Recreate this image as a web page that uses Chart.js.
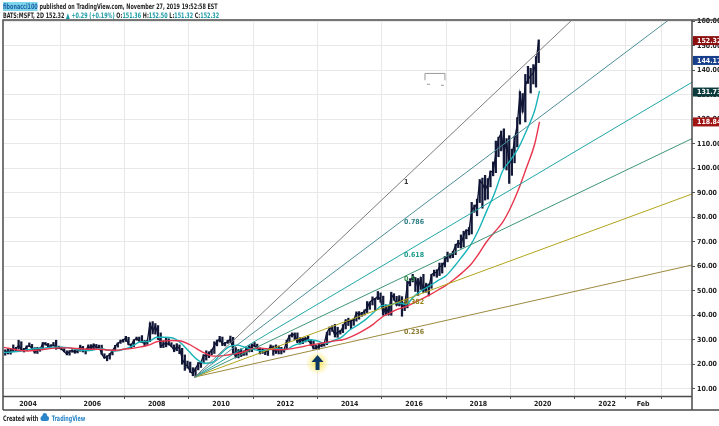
<!DOCTYPE html>
<html>
<head>
<meta charset="utf-8">
<script src="https://cdn.jsdelivr.net/npm/chart.js@4.4.1/dist/chart.umd.min.js"></script>
<style>
  html, body { margin: 0; padding: 0; background: #fff; }
  #wrap { position: relative; width: 719px; height: 426px; overflow: hidden; }
  #c { position: absolute; left: 0; top: 0; }
  .txt { position: absolute; left: 3px; white-space: nowrap; color: #1e1e1e; transform-origin: 0 0;
         font: bold 7.5px 'Liberation Sans Narrow', 'DejaVu Sans Condensed', 'Liberation Sans', Arial, sans-serif; }
  .hd { transform: scaleX(0.72); }
  .t { color: #1a9aa6; }
  .user { background: #7fd6ea; color: #1b5fa6; }
  .tv { color: #2a86c8; }
</style>
</head>
<body>
<div id="wrap">
  <canvas id="c" width="719" height="426"></canvas>
  <div class="txt hd" style="top:2px"><span class="user">fibonacci100</span> published on TradingView.com, November 27, 2019 19:52:58 EST</div>
  <div class="txt hd" style="top:11px">BATS:MSFT, 2D 152.32 <span class="t">▲ +0.29 (+0.19%)</span> O:<span class="t">151.36</span> H:<span class="t">152.50</span> L:<span class="t">151.32</span> C:<span class="t">152.32</span></div>
  <div class="txt hd" style="top:413px">Created with <svg width="14" height="9" viewBox="0 0 12 9" style="vertical-align:-1px"><path d="M3 8 Q0 8 0 5.5 Q0 3 2.5 3 Q3 0 6 0 Q9 0 9.5 3 Q12 3 12 5.5 Q12 8 9 8 Z" fill="#2a86c8"/></svg> <span class="tv">TradingView</span></div>
</div>
<script>
// MSFT 2D, monthly summary (Apr 2003 .. Nov 2019)
const startYear = 2003, startMonth = 4;

const closes = [
  25.6, 24.6, 25.6, 26.4, 26.5, 27.8, 26.1, 25.7, 27.4,
  27.6, 26.5, 24.9, 26.1, 26.2, 28.6, 28.5, 27.3, 27.7, 28.0, 26.8, 26.7,
  26.3, 25.2, 24.2, 25.3, 25.8, 24.8, 25.6, 27.4, 25.7, 25.7, 27.7, 26.2,
  28.2, 26.9, 27.2, 24.2, 22.6, 23.3, 24.1, 25.7, 27.4, 28.7, 29.4, 29.9,
  30.9, 28.2, 27.9, 29.9, 30.7, 29.5, 29.0, 28.7, 29.5, 36.8, 33.6, 35.6,
  32.6, 27.2, 28.4, 28.5, 28.3, 27.5, 25.7, 27.3, 26.7, 22.3, 20.2, 19.4,
  17.1, 16.2, 18.4, 20.3, 20.9, 23.8, 23.5, 24.7, 25.7, 27.7, 29.4, 30.5,
  28.2, 28.7, 29.3, 30.5, 25.8, 23.0, 25.8, 23.5, 24.5, 26.7, 25.3, 27.9,
  27.7, 26.6, 25.4, 26.0, 25.0, 26.0, 27.4, 26.6, 24.9, 26.6, 25.6, 26.0,
  29.5, 31.7, 32.3, 32.0, 29.2, 30.6, 29.5, 30.8, 29.8, 28.5, 26.6, 26.7,
  27.5, 27.8, 28.6, 33.1, 34.9, 34.5, 31.8, 33.4, 33.3, 35.4, 38.1, 37.4,
  37.8, 38.3, 41.0, 40.4, 40.9, 41.7, 43.2, 45.4, 46.4, 46.9, 47.8, 46.5,
  40.4, 43.9, 40.7, 48.6, 47.0, 44.2, 46.7, 43.5, 44.3, 52.6, 54.4, 55.5,
  55.1, 51.0, 55.2, 49.9, 53.0, 51.2, 56.7, 57.5, 57.6, 59.9, 60.3, 62.1,
  64.7, 64.0, 65.9, 68.5, 69.8, 68.9, 72.7, 74.8, 74.5, 83.2, 84.2, 85.5,
  95.0, 93.8, 91.3, 93.5, 98.8, 98.6, 106.1, 112.3, 114.4, 106.8, 110.9, 101.6,
  104.4, 112.0, 117.9, 130.6, 123.7, 134.0, 136.3, 137.9, 139.0, 143.4, 152.3
];

const lows = [
  23.8, 24.3, 24.2, 25.2, 25.6, 26.3, 25.6, 25.1, 25.6,
  27.3, 26.3, 24.6, 24.5, 25.4, 26.0, 27.9, 26.9, 27.1, 27.5, 26.2, 26.6,
  26.0, 25.2, 23.9, 23.8, 25.0, 24.6, 24.7, 25.4, 25.1, 24.3, 25.6, 26.1,
  26.1, 26.6, 26.5, 24.1, 22.6, 21.5, 22.2, 23.9, 25.5, 27.1, 28.6, 29.1,
  29.4, 28.0, 26.6, 27.3, 29.9, 29.5, 28.9, 27.5, 28.2, 29.3, 32.5, 32.4,
  30.2, 26.9, 26.9, 27.2, 27.9, 27.2, 25.2, 25.6, 24.4, 20.1, 17.6, 18.5,
  16.8, 15.4, 14.9, 17.8, 18.8, 20.6, 21.8, 22.8, 24.0, 24.5, 27.6, 29.2,
  27.7, 27.6, 28.6, 28.9, 24.0, 22.9, 22.7, 23.3, 23.7, 23.8, 25.2, 25.2,
  27.2, 26.3, 24.3, 24.5, 24.0, 23.7, 26.0, 23.8, 24.5, 24.3, 24.3, 25.0,
  26.4, 29.4, 31.2, 30.2, 28.9, 28.3, 28.5, 29.2, 29.6, 27.8, 26.3, 26.3,
  26.3, 27.2, 27.5, 28.1, 32.0, 33.5, 31.2, 31.1, 32.4, 33.0, 34.5, 35.9,
  34.6, 36.0, 37.7, 38.5, 39.7, 40.2, 41.2, 42.5, 44.3, 42.1, 46.5, 45.4,
  40.2, 40.2, 40.2, 40.1, 46.2, 44.1, 43.9, 39.7, 42.0, 43.1, 52.1, 53.7,
  49.8, 48.2, 50.6, 49.4, 49.5, 48.0, 51.1, 56.1, 55.6, 56.3, 57.3, 59.8,
  61.9, 63.4, 63.6, 64.8, 67.7, 67.5, 68.0, 71.3, 72.9, 73.3, 82.1, 80.7,
  86.1, 83.8, 87.1, 87.5, 92.5, 97.0, 98.3, 104.8, 107.2, 100.1, 99.4, 93.9,
  97.2, 102.3, 108.8, 118.1, 123.0, 119.0, 134.7, 130.8, 134.5, 133.2, 143.2
];

const highs = [
  26.0, 26.4, 26.3, 28.0, 27.0, 29.9, 29.3, 26.6, 27.6,
  28.8, 28.2, 26.9, 27.0, 26.8, 29.0, 29.0, 28.6, 28.1, 29.0, 29.9, 27.5,
  27.1, 26.5, 25.6, 25.7, 26.0, 26.0, 26.0, 27.9, 27.4, 25.9, 28.0, 28.1,
  28.4, 28.2, 27.9, 27.9, 24.4, 23.6, 24.5, 25.9, 27.8, 28.8, 30.0, 30.3,
  31.5, 31.1, 28.4, 30.1, 31.2, 31.2, 31.8, 29.8, 29.9, 37.0, 37.5, 36.7,
  35.9, 32.9, 29.7, 30.7, 30.5, 28.9, 28.0, 28.5, 28.0, 26.6, 23.9, 21.4,
  21.0, 18.7, 18.6, 20.8, 21.2, 24.0, 25.6, 25.2, 26.1, 29.3, 30.0, 31.5,
  31.2, 29.0, 29.9, 31.6, 31.1, 26.9, 26.1, 26.4, 25.6, 27.2, 27.7, 28.4,
  29.0, 28.3, 26.8, 26.4, 26.0, 26.0, 28.0, 27.6, 28.0, 27.5, 27.0, 26.2,
  29.9, 32.0, 32.9, 32.9, 32.9, 30.9, 30.9, 31.0, 31.6, 30.2, 29.5, 27.8,
  28.2, 28.2, 28.9, 33.1, 35.3, 35.8, 36.4, 35.2, 34.0, 36.3, 38.3, 38.9,
  38.0, 38.6, 41.5, 41.6, 41.3, 42.3, 45.7, 45.5, 47.6, 47.0, 49.8, 49.2,
  47.9, 44.3, 44.2, 49.5, 48.9, 47.8, 48.1, 47.7, 45.4, 54.0, 55.0, 56.8,
  55.5, 55.1, 55.6, 56.8, 53.0, 52.9, 56.8, 58.5, 58.7, 61.4, 61.4, 64.1,
  65.9, 65.2, 66.2, 69.1, 70.7, 72.9, 74.4, 75.0, 75.9, 86.2, 85.1, 87.5,
  95.5, 96.1, 97.2, 95.9, 99.0, 102.7, 111.2, 112.8, 115.3, 116.2, 112.2, 113.4,
  107.9, 113.2, 120.8, 131.4, 130.6, 138.4, 141.7, 140.9, 142.4, 145.7, 152.5
];

// moving averages, quarterly readings (2003.25 .. 2019.75, then last bar)
const maStart = 2003.25, maLastX = 2019.9;
const maCyan = [
  24.9, 25.1, 25.4,
  26.0, 26.5, 26.7, 27.1,  27.1, 26.9, 26.1, 25.7,  25.8, 26.5, 25.8, 25.6,
  26.3, 27.6, 29.3, 29.4,  31.1, 31.1, 30.8, 28.8,  25.4, 22.1, 20.5, 21.0,
  24.5, 27.2, 27.9, 27.0,  26.2, 25.6, 26.1, 26.4,  26.0, 27.7, 28.8, 30.1,
  29.6, 28.6, 29.8, 31.2,  34.1, 36.1, 38.4, 41.3,  44.0, 44.3, 45.2, 44.6,
  47.8, 50.3, 52.2, 54.3,  56.3, 60.0, 64.2, 68.6,  74.8, 82.4, 89.8, 98.9,
  103.4, 108.5, 115.6, 123.7, 131.7
];
const maRed = [
  27.0, 26.4, 25.7,
  25.5, 25.8, 26.2, 26.6,  26.8, 26.8, 26.5, 26.3,  26.2, 26.2, 25.9, 25.8,
  26.3, 26.6, 27.2, 27.9,  29.3, 29.6, 29.8, 29.6,  28.3, 26.4, 24.6, 23.4,
  23.5, 24.0, 24.5, 25.3,  26.6, 26.7, 26.3, 26.0,  26.1, 26.6, 27.2, 27.9,
  28.4, 29.0, 29.6, 30.0,  31.1, 32.6, 34.4, 36.6,  39.3, 41.0, 42.6, 43.6,
  45.2, 46.8, 48.5, 50.4,  52.4, 54.8, 57.5, 60.6,  65.0, 70.0, 74.0, 78.0,
  84.0, 91.5, 100.5, 110.0, 119.0
];

// fib speed fan: origin at the 2009 low, end prices at the right edge
const fanOrigin = { x: 2009.18, y: 14.87 };
const fanLevels = ['1', '0.786', '0.618', '0.5', '0.382', '0.236'];
const fanEnds = [207.0, 167.8, 135.2, 112.2, 89.6, 60.6];
const fanColors = ['#7d7d7d', '#4d8f98', '#22a8a6', '#3f9478', '#b3a41c', '#9c8a3e'];
const fanTextColors = ['#333333', '#2f7f86', '#1c9c8c', '#2f8a45', '#8f8418', '#8a7a30'];
const fanLabelX = 2015.66;

// small range drawing near the top
const rangeMark = { x0: 2016.34, x1: 2016.96, yTop: 138.8, yBot: 136.0 };

// axis ticks
const xMin = 2003.254, xMax = 2024.64;
const yMin = 7.14, yMax = 160.2;
const xTickVals = [2004, 2006, 2008, 2010, 2012, 2014, 2016, 2018, 2020, 2022, 2023.12];
const xTickLabels = ['2004', '2006', '2008', '2010', '2012', '2014', '2016', '2018', '2020', '2022', 'Feb'];
const yTickVals = [10, 20, 30, 40, 50, 60, 70, 80, 90, 100, 110, 120, 130, 140, 150, 160];

// price labels on the right scale
const priceTags = [
  { value: 152.2, text: '152.32', color: '#8c1010' },
  { value: 144.1, text: '144.17', color: '#173f8c' },
  { value: 131.2, text: '131.73', color: '#0b3a3c' },
  { value: 119.0, text: '118.84', color: '#a01414' }
];
const arrowAt = { x: 2013.0, y: 20.6 };

const FONT = "'Liberation Sans Narrow', 'DejaVu Sans Condensed', 'Liberation Sans', Arial, sans-serif";

const monthX = closes.map((_, i) => startYear + (startMonth - 1 + i + 0.5) / 12);
const maX = maCyan.map((_, i) => i === maCyan.length - 1 ? maLastX : maStart + i * 0.25);

const fanDatasets = fanLevels.map((lvl, i) => ({
  type: 'line',
  label: 'fan ' + lvl,
  data: [fanOrigin, { x: xMax, y: fanEnds[i] }],
  borderColor: fanColors[i],
  borderWidth: 1,
  pointRadius: 0,
  order: 0
}));

const overlay = {
  id: 'overlay',
  afterDraw(chart) {
    const { ctx, scales: { x, y } } = chart;
    ctx.save();

    // fan level labels
    ctx.font = 'bold 7px ' + FONT;
    ctx.textBaseline = 'middle';
    ctx.textAlign = 'left';
    fanLevels.forEach((lvl, i) => {
      const t = (fanLabelX - fanOrigin.x) / (xMax - fanOrigin.x);
      const v = fanOrigin.y + t * (fanEnds[i] - fanOrigin.y);
      ctx.fillStyle = fanTextColors[i];
      ctx.fillText(lvl, x.getPixelForValue(fanLabelX) + 1, y.getPixelForValue(v) + 2);
    });

    // small range drawing
    const rx0 = x.getPixelForValue(rangeMark.x0), rx1 = x.getPixelForValue(rangeMark.x1);
    const ryt = y.getPixelForValue(rangeMark.yTop), ryb = y.getPixelForValue(rangeMark.yBot);
    ctx.strokeStyle = '#9a9a9a';
    ctx.lineWidth = 1;
    ctx.beginPath();
    ctx.moveTo(rx0, ryb); ctx.lineTo(rx0, ryt); ctx.lineTo(rx1, ryt); ctx.lineTo(rx1, ryb);
    ctx.moveTo(rx0 + 2, ryb + 4); ctx.lineTo(rx0 + 5, ryb + 4);
    ctx.moveTo(rx1 - 4, ryb + 5); ctx.lineTo(rx1 - 1, ryb + 5);
    ctx.stroke();

    // arrow annotation
    const ax = x.getPixelForValue(arrowAt.x), ay = y.getPixelForValue(arrowAt.y);
    const g = ctx.createRadialGradient(ax, ay, 2, ax, ay, 12);
    g.addColorStop(0, 'rgba(250,230,90,0.9)');
    g.addColorStop(1, 'rgba(250,235,120,0)');
    ctx.fillStyle = g;
    ctx.beginPath(); ctx.arc(ax, ay, 12, 0, Math.PI * 2); ctx.fill();
    ctx.fillStyle = '#0d3763';
    ctx.beginPath();
    ctx.moveTo(ax, ay - 8);
    ctx.lineTo(ax + 6, ay - 1);
    ctx.lineTo(ax + 2, ay - 1);
    ctx.lineTo(ax + 2, ay + 7);
    ctx.lineTo(ax - 2, ay + 7);
    ctx.lineTo(ax - 2, ay - 1);
    ctx.lineTo(ax - 6, ay - 1);
    ctx.closePath();
    ctx.fill();

    // frame
    ctx.strokeStyle = '#4a4a4a';
    ctx.lineWidth = 1.5;
    ctx.beginPath();
    ctx.moveTo(3, 410); ctx.lineTo(3, 20); ctx.lineTo(719, 20);
    ctx.moveTo(692, 20); ctx.lineTo(692, 410);
    ctx.moveTo(3, 396.5); ctx.lineTo(692, 396.5);
    ctx.moveTo(3, 410); ctx.lineTo(719, 410);
    ctx.stroke();

    // price tags on the right axis
    ctx.font = 'bold 7px ' + FONT;
    priceTags.forEach(p => {
      const py = y.getPixelForValue(p.value);
      ctx.fillStyle = p.color;
      ctx.fillRect(693, py - 4.5, 26, 9);
      ctx.fillStyle = '#fff';
      ctx.fillText(p.text, 697, py + 0.5);
    });
    ctx.restore();
  }
};

new Chart(document.getElementById('c'), {
  type: 'bar',
  data: {
    datasets: [
      ...fanDatasets,
      {
        type: 'line', label: 'MA red',
        data: maRed.map((v, i) => ({ x: maX[i], y: v })),
        borderColor: '#e8344c', borderWidth: 1.4, pointRadius: 0,
        cubicInterpolationMode: 'monotone', order: 1
      },
      {
        type: 'line', label: 'MA cyan',
        data: maCyan.map((v, i) => ({ x: maX[i], y: v })),
        borderColor: '#17b3b8', borderWidth: 1.4, pointRadius: 0,
        cubicInterpolationMode: 'monotone', order: 2
      },
      {
        type: 'line', label: 'close',
        data: closes.map((v, i) => ({ x: monthX[i], y: v })),
        borderColor: '#0e1233', borderWidth: 1.3, pointRadius: 0, order: 3
      },
      {
        type: 'bar', label: 'range',
        data: lows.map((v, i) => ({ x: monthX[i], y: [v, highs[i]] })),
        backgroundColor: '#121838', barThickness: 1.6, order: 4
      }
    ]
  },
  options: {
    responsive: false,
    animation: false,
    devicePixelRatio: 1,
    layout: { padding: { left: 4, top: 21, right: 0, bottom: 16 } },
    plugins: { legend: { display: false }, tooltip: { enabled: false } },
    scales: {
      x: {
        type: 'linear', min: xMin, max: xMax, offset: false,
        afterBuildTicks: s => { s.ticks = xTickVals.map(v => ({ value: v })); },
        afterFit: s => { s.height = 14; },
        grid: { color: '#e8e8e8', tickColor: '#555', tickLength: 3 },
        border: { display: false },
        ticks: {
          autoSkip: false, maxRotation: 0, padding: 1, color: '#222',
          font: { family: FONT, size: 7, weight: 'bold' },
          callback: (v, i) => xTickLabels[i]
        }
      },
      y: {
        type: 'linear', position: 'right', min: yMin, max: yMax,
        afterBuildTicks: s => { s.ticks = yTickVals.map(v => ({ value: v })); },
        afterFit: s => { s.width = 27; },
        grid: { color: '#e8e8e8', tickColor: '#555', tickLength: 3 },
        border: { display: false },
        ticks: {
          padding: 2, color: '#222',
          font: { family: FONT, size: 7, weight: 'bold' },
          callback: v => v.toFixed(2)
        }
      }
    }
  },
  plugins: [overlay]
});
</script>
</body>
</html>
